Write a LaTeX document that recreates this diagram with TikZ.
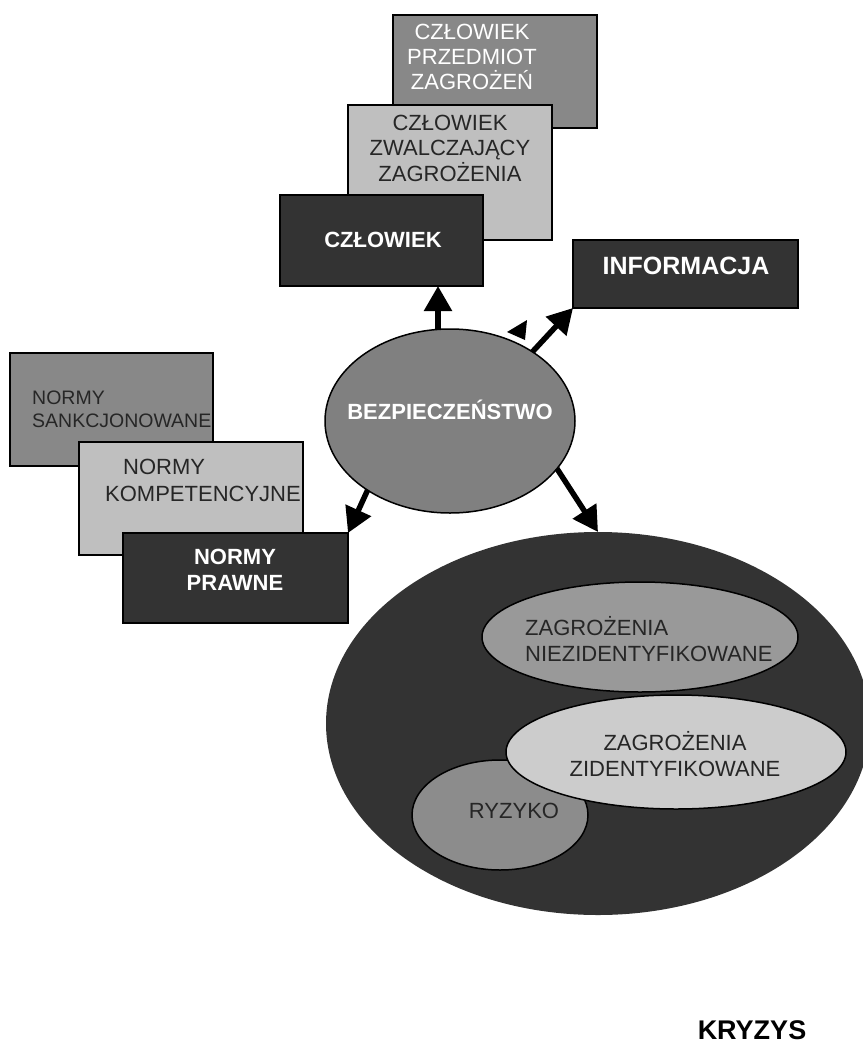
\documentclass[tikz,border=0pt]{standalone}
\usepackage{fontspec}
\setmainfont{Liberation Sans}
\usetikzlibrary{arrows.meta, positioning, shapes.geometric}
\definecolor{boxdark}{HTML}{333333}
\definecolor{boxmid}{HTML}{888888}
\definecolor{boxlight}{HTML}{BFBFBF}
\definecolor{ovmid}{HTML}{999999}
\definecolor{ovlight}{HTML}{CCCCCC}
\tikzset{
  box/.style={rectangle,draw,line width=1.5pt,inner sep=0pt,outer sep=0pt},
  oval/.style={ellipse,draw,line width=1.5pt,inner sep=0pt,outer sep=0pt},
  txt/.style={align=center,inner sep=0pt,text=black!85,font=\fontsize{22}{26}\selectfont},
  btxt/.style={align=center,inner sep=0pt,text=white,font=\bfseries\fontsize{22}{26}\selectfont},
  line/.style={-{Triangle[length=25pt,width=27pt]},line width=5.5pt}
}

\begin{document}
\begin{tikzpicture}[x=1pt,y=-1pt]
\useasboundingbox (0,0) rectangle (862,1044);
% czlowiek
\node[box, fill=boxmid, minimum width=204pt, minimum height=113pt] (cp) at (495,71.5) {};
\node[txt, text=white, font=\fontsize{22}{25}\selectfont] (cpt) at (472,57) {CZŁOWIEK\\PRZEDMIOT\\ZAGROŻEŃ};
\node[box, fill=boxlight, minimum width=204pt, minimum height=135pt] (cz) at (450,172.5) {};
\node[txt, font=\fontsize{22}{25.5}\selectfont] (czt) at (450,148) {CZŁOWIEK\\ZWALCZAJĄCY\\ZAGROŻENIA};
\node[box, fill=boxdark, minimum width=203pt, minimum height=91pt] (cw) at (381.5,240.5) {};
\node[btxt] (cwt) at (383,240) {CZŁOWIEK};
% informacja
\node[box, fill=boxdark, minimum width=225pt, minimum height=68pt] (inf) at (685.5,274) {};
\node[btxt, font=\bfseries\fontsize{25}{30}\selectfont] (inft) at (686,266) {INFORMACJA};
% normy
\node[box, fill=boxmid, minimum width=203pt, minimum height=113pt] (ns) at (111.5,409.5) {};
\node[txt, align=left, anchor=west, font=\fontsize{19.5}{23}\selectfont] (nst) at (32,409) {NORMY\\SANKCJONOWANE};
\node[box, fill=boxlight, minimum width=224pt, minimum height=113pt] (nk) at (191,498.5) {};
\node[txt, align=left, anchor=west, font=\fontsize{22}{27}\selectfont] (nkt) at (105,480) {\hspace*{18pt}NORMY\\KOMPETENCYJNE};
\node[box, fill=boxdark, minimum width=225pt, minimum height=90pt] (np) at (235.5,578) {};
\node[btxt] (npt) at (235,570) {NORMY\\PRAWNE};
% bezpieczenstwo
\node[oval, fill=black!50, minimum width=250pt, minimum height=184pt] (bez) at (450,421) {};
\node[btxt] (bezt) at (450,410) {BEZPIECZEŃSTWO};
% kryzys
\node[ellipse, fill=boxdark, inner sep=0pt, outer sep=0pt, minimum width=544pt, minimum height=383pt] (kr) at (598,723.5) {};
\node[oval, fill=ovmid, minimum width=316pt, minimum height=110pt] (nz) at (640,637) {};
\node[txt, align=left, anchor=west] (nzt) at (525,639) {ZAGROŻENIA\\NIEZIDENTYFIKOWANE};
\node[oval, fill=black!45, minimum width=176pt, minimum height=110pt] (ry) at (500,815) {};
\node[txt] (ryt) at (514,811) {RYZYKO};
\node[oval, fill=ovlight, minimum width=340pt, minimum height=114pt] (zi) at (676,752) {};
\node[txt] (zit) at (675,754) {ZAGROŻENIA\\ZIDENTYFIKOWANE};
\node[txt, text=black, font=\bfseries\fontsize{27}{32}\selectfont] (kry) at (752,1030) {KRYZYS};
% strzalki
\draw[line] (bez.north -| 438,0) -- (cw.south -| 438,0);
\draw[line] (bez.40) -- (inf.south west);
\fill (507,332) -- (527,320) -- (525,340) -- cycle;
\draw[line] (bez.220) -- (np.north east);
\draw[line] (bez.-24) -- (kr.north);
\end{tikzpicture}
\end{document}
